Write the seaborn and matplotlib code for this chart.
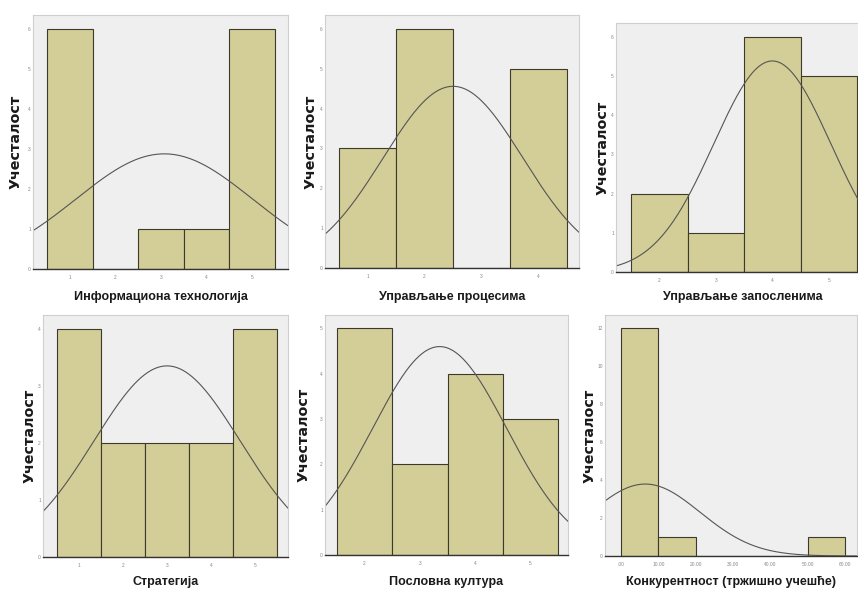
import numpy as np
import pandas as pd
import matplotlib
matplotlib.use("Agg")
import matplotlib.pyplot as plt
import seaborn as sns

# Frequency counts per answer value (Likert scale items)
it_values = [1, 2, 3, 4, 5]
it_counts = [6, 0, 1, 1, 6]

proc_values = [1, 2, 3, 4]
proc_counts = [3, 6, 0, 5]

empl_values = [2, 3, 4, 5]
empl_counts = [2, 1, 6, 5]

strat_values = [1, 2, 3, 4, 5]
strat_counts = [4, 2, 2, 2, 4]

cult_values = [2, 3, 4, 5]
cult_counts = [5, 2, 4, 3]

# Market share observations (percent)
market_share = [0, 0, 0, 0, 0, 0, 0, 0, 0, 4, 8, 9, 15, 55]
market_bins = [0, 10, 20, 30, 40, 50, 60]
market_tick_labels = [".00", "10.00", "20.00", "30.00", "40.00", "50.00", "60.00"]

y_title = "Учесталост"
x_titles = [
    "Информациона технологија",
    "Управљање процесима",
    "Управљање запосленима",
    "Стратегија",
    "Пословна култура",
    "Конкурентност (тржишно учешће)",
]

sns.set_style("white")
plt.rcParams["font.family"] = ["Liberation Sans", "DejaVu Sans"]

XLAB_FONT = ["Liberation Sans", "DejaVu Sans"]
YLAB_FONT = ["DejaVu Sans"]

BAR = "#d3cd97"
EDGE = "#3b3a2c"
BG = "#efefef"
CURVE = "#555555"

W, H = 858, 589
fig = plt.figure(figsize=(W / 100, H / 100), dpi=100)
fig.patch.set_facecolor("white")


def make_axes(left, top, right, bottom):
    return fig.add_axes([left / W, 1 - bottom / H, (right - left) / W, (bottom - top) / H])


def style(ax, xlabel, ylab_off, xlab_off, box):
    left, top, right, bottom = box
    ax.set_facecolor(BG)
    for side in ("top", "left", "right"):
        ax.spines[side].set_color("#cfcfcf")
        ax.spines[side].set_linewidth(0.8)
    ax.spines["bottom"].set_color("#333333")
    ax.spines["bottom"].set_linewidth(1.0)
    ax.tick_params(axis="x", length=2.5, width=0.6, color="#777777",
                   labelsize=3.5, labelcolor="#888888", pad=2)
    ax.tick_params(axis="y", length=1.0, width=0.6, color="#999999",
                   labelsize=3.5, labelcolor="#888888", pad=0.5)
    ax.set_ylabel(y_title, fontsize=10.3, fontweight="bold", color="#1a1a1a",
                  family=YLAB_FONT)
    ax.set_xlabel(xlabel, fontsize=9, fontweight="bold", color="#1a1a1a",
                  family=XLAB_FONT)
    ax.yaxis.set_label_coords(-ylab_off / (right - left), 0.5)
    ax.xaxis.set_label_coords(0.5, -xlab_off / (bottom - top))
    ax.grid(False)


def normal_curve(ax, obs, width, xlim):
    obs = np.asarray(obs, dtype=float)
    mu, sd = obs.mean(), obs.std(ddof=1)
    xs = np.linspace(xlim[0], xlim[1], 300)
    ys = len(obs) * width / (sd * np.sqrt(2 * np.pi)) * np.exp(-0.5 * ((xs - mu) / sd) ** 2)
    ax.plot(xs, ys, color=CURVE, lw=0.8)


likert_panels = [
    (it_values, it_counts, (33, 15, 288, 269), (0.193, 5.785), 6.35, 1, 10, 22),
    (proc_values, proc_counts, (325, 15, 579, 268), (0.254, 4.71), 6.35, 1, 7, 23),
    (empl_values, empl_counts, (616, 23, 869, 272), (1.235, 5.71), 6.35, 1, 6.5, 19),
    (strat_values, strat_counts, (43, 315, 288, 557), (0.18, 5.75), 4.25, 1, 6, 19),
    (cult_values, cult_counts, (325, 315, 568, 555), (1.283, 5.68), 5.29, 1, 14, 21),
]

for i, (vals, cnts, box, xlim, ytop, ystep, yoff, xoff) in enumerate(likert_panels):
    ax = make_axes(*box)
    obs = np.repeat(vals, cnts)
    df = pd.DataFrame({"v": obs})
    sns.histplot(data=df, x="v", discrete=True, stat="count", ax=ax,
                 color=BAR, alpha=1, edgecolor=EDGE, linewidth=0.8)
    normal_curve(ax, obs, 1.0, xlim)
    ax.set_xlim(*xlim)
    ax.set_ylim(0, ytop)
    ax.set_xticks(vals)
    ax.set_xticklabels([str(v) for v in vals])
    ax.set_yticks(np.arange(0, int(ytop) + 1, ystep))
    style(ax, x_titles[i], yoff, xoff, box)

# Market share panel
box6 = (605, 315, 857, 556)
xlim6 = (-4.28, 63.2)
ax6 = make_axes(*box6)
sns.histplot(x=market_share, bins=market_bins, stat="count", ax=ax6,
             color=BAR, alpha=1, edgecolor=EDGE, linewidth=0.8)
normal_curve(ax6, market_share, 10.0, xlim6)
ax6.set_xlim(*xlim6)
ax6.set_ylim(0, 12.7)
ax6.set_xticks(market_bins)
ax6.set_xticklabels(market_tick_labels)
ax6.set_yticks(np.arange(0, 13, 2))
style(ax6, x_titles[5], 8, 20, box6)

fig.savefig("out.png", dpi=100, facecolor="white")
